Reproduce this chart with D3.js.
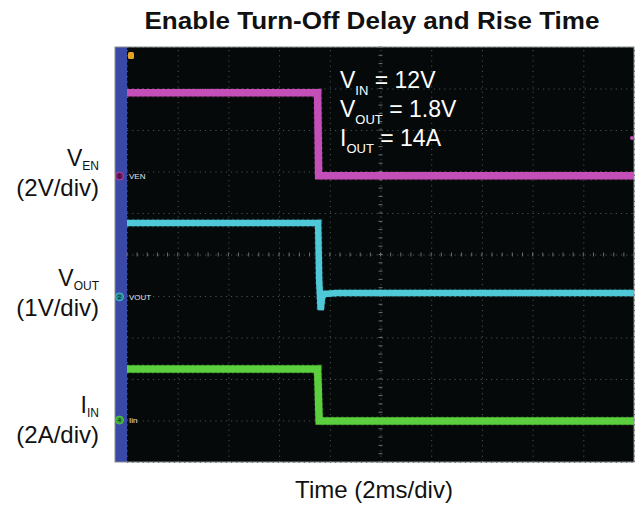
<!DOCTYPE html>
<html>
<head>
<meta charset="utf-8">
<script src="https://cdn.jsdelivr.net/npm/d3@7/dist/d3.min.js"></script>
<style>
  body { margin: 0; background: #fff; }
  svg { display: block; font-family: "Liberation Sans", Arial, sans-serif; }
</style>
</head>
<body>
<svg id="chart" width="642" height="506"></svg>
<script>
// ---- Data (time in ms, values in physical units) ----
const timeDomain = [0, 20];          // 10 div x 2 ms/div
const divDomain = [0, 10];           // vertical divisions
const timeGrid = [0, 2, 4, 6, 8, 10, 12, 14, 16, 18, 20];
const divGrid = [0, 1, 2, 3, 4, 5, 6, 7, 8, 9, 10];

const venTime = [0, 7.52, 7.56, 20];
const venVolts = [4.02, 4.02, 0.02, 0.02];

const voutTime = [0, 7.54, 7.58, 7.64, 7.70, 7.80, 8.3, 20];
const voutVolts = [1.78, 1.78, 0.4, -0.32, 0.0, 0.07, 0.09, 0.09];

const iinTime = [0, 7.52, 7.58, 20];
const iinAmps = [2.46, 2.46, -0.05, -0.05];

const channelNames = ["VEN", "VOUT", "Iin"];
const channelNums = ["1", "2", "4"];
const channelScale = [2, 1, 2];          // units per division
const channelOffset = [6.89, 3.98, 1.01]; // ground reference, divisions

const annotLines = [["V", "IN", " = 12V"], ["V", "OUT", " = 1.8V"], ["I", "OUT", " = 14A"]];
const sideLabels = [["V", "EN", "(2V/div)"], ["V", "OUT", "(1V/div)"], ["I", "IN", "(2A/div)"]];
const titleText = "Enable Turn-Off Delay and Rise Time";
const xLabel = "Time (2ms/div)";

// ---- Layout ----
const svg = d3.select("#chart");
const frame = { left: 115, top: 47, right: 634, bottom: 462 };
const plotLeft = 127;
const colors = ["#c54fb8", "#4fc9d8", "#5ccf3f"];
const markerColors = ["#6a1a5a", "#1f8a8f", "#3aa53a"];

const x = d3.scaleLinear().domain(timeDomain).range([plotLeft, frame.right]);
const yDiv = d3.scaleLinear().domain(divDomain).range([frame.bottom, frame.top]);

// Title
svg.append("text").attr("x", 372).attr("y", 29).attr("text-anchor", "middle")
  .attr("font-size", 24).attr("font-weight", "bold").attr("fill", "#111")
  .attr("textLength", 455).attr("lengthAdjust", "spacingAndGlyphs").text(titleText);

// Screen background
svg.append("rect").attr("x", frame.left).attr("y", frame.top)
  .attr("width", frame.right - frame.left).attr("height", frame.bottom - frame.top)
  .attr("fill", "#050909");

// Blue side strip
svg.append("rect").attr("x", frame.left).attr("y", frame.top)
  .attr("width", plotLeft - frame.left).attr("height", frame.bottom - frame.top)
  .attr("fill", "#3a48a6");

// Grid via axes
const gridG = svg.append("g");
const xGrid = d3.axisBottom(x).tickValues(timeGrid).tickSize(-(frame.bottom - frame.top)).tickFormat("");
gridG.append("g").attr("transform", `translate(0,${frame.bottom})`).call(xGrid)
  .call(g => g.select(".domain").remove())
  .call(g => g.selectAll("line").attr("stroke", "#4a4f4f").attr("stroke-width", 1).attr("stroke-dasharray", "1.2,4"));
const yGrid = d3.axisLeft(yDiv).tickValues(divGrid).tickSize(-(frame.right - plotLeft)).tickFormat("");
gridG.append("g").attr("transform", `translate(${plotLeft},0)`).call(yGrid)
  .call(g => g.select(".domain").remove())
  .call(g => g.selectAll("line").attr("stroke", "#4a4f4f").attr("stroke-width", 1).attr("stroke-dasharray", "1.2,4"));

// Center cross minor ticks
const minorT = d3.range(0, 20.01, 0.4);
const minorD = d3.range(0, 10.01, 0.2);
const xc = x(10), yc = yDiv(5);
gridG.selectAll(".mx").data(minorT).join("line")
  .attr("x1", d => x(d)).attr("x2", d => x(d)).attr("y1", yc - 2).attr("y2", yc + 2)
  .attr("stroke", "#6a6f6f").attr("stroke-width", 1);
gridG.selectAll(".my").data(minorD).join("line")
  .attr("y1", d => yDiv(d)).attr("y2", d => yDiv(d)).attr("x1", xc - 2).attr("x2", xc + 2)
  .attr("stroke", "#6a6f6f").attr("stroke-width", 1);

// Traces
const series = [
  { t: venTime, v: venVolts },
  { t: voutTime, v: voutVolts },
  { t: iinTime, v: iinAmps }
];
const widths = [7.5, 6.5, 7.5];
series.forEach((s, i) => {
  const pts = s.t.map((t, k) => [t, s.v[k]]);
  const line = d3.line()
    .x(d => x(d[0]))
    .y(d => yDiv(channelOffset[i] + d[1] / channelScale[i]));
  svg.append("path").datum(pts).attr("d", line)
    .attr("fill", "none").attr("stroke", colors[i]).attr("stroke-width", widths[i])
    .attr("stroke-linejoin", "miter").attr("stroke-linecap", "butt");
  svg.append("path").datum(pts).attr("d", line)
    .attr("fill", "none").attr("stroke", colors[i]).attr("stroke-width", widths[i] + 2)
    .attr("stroke-opacity", 0.25).attr("stroke-dasharray", "2,3");
});

// Channel markers on strip
channelNames.forEach((name, i) => {
  const yy = yDiv(channelOffset[i]);
  svg.append("circle").attr("cx", 119.5).attr("cy", yy).attr("r", 4)
    .attr("fill", markerColors[i]).attr("stroke", colors[i]).attr("stroke-width", 0.8);
  svg.append("text").attr("x", 119.5).attr("y", yy + 2.3).attr("text-anchor", "middle")
    .attr("font-size", 6).attr("fill", "#111").text(channelNums[i]);
  svg.append("text").attr("x", 129).attr("y", yy + 3).attr("font-size", 8)
    .attr("fill", "#e6e6e6").text(name);
});

// Trigger position marker (top)
svg.append("rect").attr("x", 128).attr("y", 52).attr("width", 6).attr("height", 7)
  .attr("rx", 1.5).attr("fill", "#e8a020");
// Trigger level marker (right)
svg.append("circle").attr("cx", 632).attr("cy", 138).attr("r", 2).attr("fill", colors[0]);

// Frame border
svg.append("rect").attr("x", frame.left).attr("y", frame.top)
  .attr("width", frame.right - frame.left).attr("height", frame.bottom - frame.top)
  .attr("fill", "none").attr("stroke", "#8a8f8f").attr("stroke-width", 1);

// Annotation on screen
annotLines.forEach((ln, i) => {
  const t = svg.append("text").attr("x", 340).attr("y", 88 + i * 29)
    .attr("font-size", 23).attr("fill", "#fff");
  t.append("tspan").text(ln[0]);
  t.append("tspan").attr("font-size", 13).attr("dy", 7).text(ln[1]);
  t.append("tspan").attr("dy", -7).text(ln[2]);
});

// Side labels
const sideY = [166, 286, 413];
sideLabels.forEach((lb, i) => {
  const t = svg.append("text").attr("x", 99).attr("y", sideY[i]).attr("text-anchor", "end")
    .attr("font-size", 23).attr("fill", "#111");
  t.append("tspan").text(lb[0]);
  t.append("tspan").attr("font-size", 12).attr("dy", 4).text(lb[1]);
  svg.append("text").attr("x", 99).attr("y", sideY[i] + 30).attr("text-anchor", "end")
    .attr("font-size", 24).attr("fill", "#111").text(lb[2]);
});

// X label
svg.append("text").attr("x", 374).attr("y", 498).attr("text-anchor", "middle")
  .attr("font-size", 24).attr("fill", "#111").text(xLabel);
</script>
</body>
</html>
